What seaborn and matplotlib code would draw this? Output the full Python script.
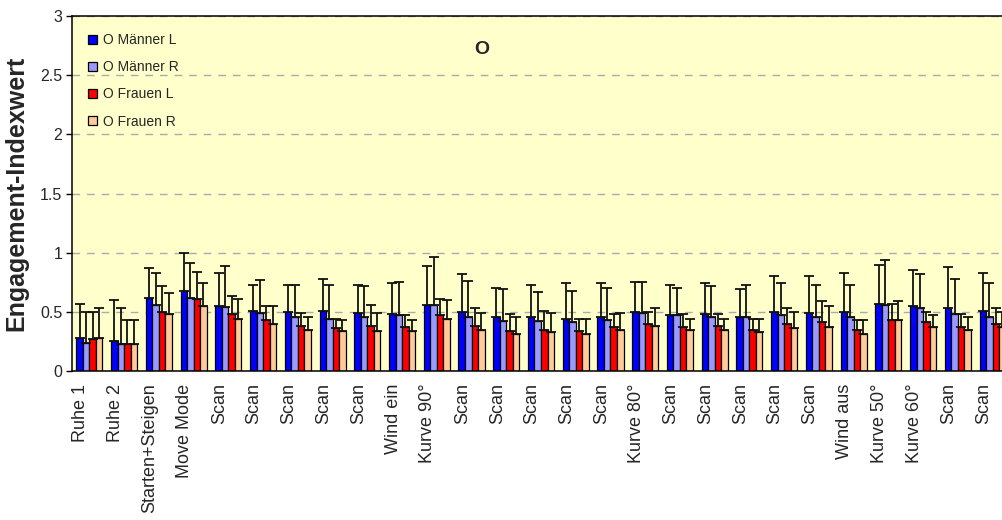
import numpy as np
import pandas as pd
import matplotlib
matplotlib.use("Agg")
import matplotlib.pyplot as plt
import matplotlib.transforms as mtransforms
import seaborn as sns

# categories along the x axis (27 phases)
categories = ["Ruhe 1", "Ruhe 2", "Starten+Steigen", "Move Mode",
              "Scan", "Scan", "Scan", "Scan", "Scan",
              "Wind ein", "Kurve 90°",
              "Scan", "Scan", "Scan", "Scan", "Scan",
              "Kurve 80°",
              "Scan", "Scan", "Scan", "Scan", "Scan",
              "Wind aus", "Kurve 50°", "Kurve 60°", "Scan", "Scan"]

series_names = ["O Männer L", "O Männer R", "O Frauen L", "O Frauen R"]

# bar heights
maenner_l = [0.28, 0.25, 0.62, 0.68, 0.55, 0.51, 0.50, 0.51, 0.49, 0.48, 0.56, 0.50, 0.46, 0.46,
             0.44, 0.46, 0.50, 0.47, 0.48, 0.46, 0.50, 0.49, 0.50, 0.57, 0.55, 0.53, 0.51]
maenner_r = [0.24, 0.23, 0.56, 0.62, 0.54, 0.49, 0.46, 0.44, 0.46, 0.47, 0.56, 0.46, 0.42, 0.42,
             0.41, 0.43, 0.49, 0.47, 0.46, 0.46, 0.47, 0.46, 0.46, 0.56, 0.53, 0.48, 0.46]
frauen_l = [0.27, 0.23, 0.50, 0.61, 0.48, 0.43, 0.38, 0.36, 0.38, 0.37, 0.47, 0.38, 0.34, 0.35,
            0.34, 0.37, 0.40, 0.37, 0.38, 0.35, 0.40, 0.41, 0.35, 0.43, 0.41, 0.37, 0.40]
frauen_r = [0.28, 0.23, 0.48, 0.55, 0.44, 0.40, 0.35, 0.34, 0.34, 0.34, 0.44, 0.35, 0.31, 0.33,
            0.31, 0.35, 0.38, 0.35, 0.35, 0.33, 0.36, 0.37, 0.31, 0.43, 0.37, 0.35, 0.37]

# upper ends of the error bars
maenner_l_top = [0.57, 0.60, 0.87, 1.00, 0.83, 0.73, 0.73, 0.78, 0.73, 0.74, 0.89, 0.82, 0.70, 0.73,
                 0.74, 0.74, 0.75, 0.73, 0.74, 0.69, 0.80, 0.80, 0.83, 0.90, 0.85, 0.88, 0.83]
maenner_r_top = [0.50, 0.53, 0.83, 0.91, 0.89, 0.77, 0.73, 0.73, 0.72, 0.75, 0.96, 0.76, 0.69, 0.67,
                 0.68, 0.70, 0.75, 0.70, 0.72, 0.73, 0.74, 0.73, 0.73, 0.94, 0.82, 0.78, 0.74]
frauen_l_top = [0.50, 0.43, 0.72, 0.84, 0.63, 0.55, 0.49, 0.44, 0.56, 0.47, 0.61, 0.53, 0.48, 0.51,
                0.44, 0.48, 0.50, 0.48, 0.48, 0.44, 0.53, 0.59, 0.43, 0.57, 0.50, 0.48, 0.53]
frauen_r_top = [0.53, 0.43, 0.66, 0.74, 0.61, 0.55, 0.46, 0.43, 0.49, 0.43, 0.60, 0.49, 0.46, 0.49,
                0.44, 0.49, 0.53, 0.44, 0.44, 0.44, 0.50, 0.55, 0.43, 0.59, 0.47, 0.46, 0.50]

colors = ["#0000FF", "#9999FF", "#FF0000", "#FFCC99"]

values = [maenner_l, maenner_r, frauen_l, frauen_r]
tops = [maenner_l_top, maenner_r_top, frauen_l_top, frauen_r_top]

# long table, x as position index so the repeated "Scan" labels stay separate
rows = []
for name, vals in zip(series_names, values):
    for i, v in enumerate(vals):
        rows.append({"pos": i, "series": name, "value": v})
df = pd.DataFrame(rows)

sns.set_style("white")
plt.rcParams['font.family'] = ['Liberation Sans', 'DejaVu Sans']

fig = plt.figure(figsize=(10.02, 5.2), dpi=100)
ax = fig.add_axes([72 / 1002, 1 - 371 / 520, (1010 - 72) / 1002, 355 / 520])
ax.set_facecolor("#FFFFCC")

sns.barplot(data=df, x="pos", y="value", hue="series", hue_order=series_names,
            palette=dict(zip(series_names, colors)), errorbar=None, width=0.75,
            saturation=1, edgecolor="black", linewidth=0.9, ax=ax, zorder=2)

# error bars (upper only)
for cont, vals, top in zip(ax.containers, values, tops):
    xs = [b.get_x() + b.get_width() / 2 for b in cont]
    up = np.array(top) - np.array(vals)
    ax.errorbar(xs, vals, yerr=[np.zeros(len(vals)), up], fmt="none",
                ecolor="#111111", elinewidth=1.3, capsize=3.5, capthick=1.3, zorder=3)

ax.set_xlim(-0.5, len(categories) - 0.5)
ax.set_ylim(0, 3)
ax.set_yticks(np.arange(0, 3.01, 0.5))
ax.set_yticklabels(["0", "0.5", "1", "1.5", "2", "2.5", "3"], fontsize=11.5)
ax.yaxis.grid(True, color="#ABABAB", linestyle=(0, (5.5, 5)), linewidth=1.0, zorder=0)
ax.set_axisbelow(True)
ax.tick_params(axis="y", left=True, length=4, width=1, pad=3, color="black")

ax.set_xticks(range(len(categories)))
ax.set_xticklabels(categories, rotation=90, fontsize=13, va="top")
ax.tick_params(axis="x", bottom=False, length=0, pad=9)
offset = mtransforms.ScaledTranslation(-9 / 100, 0, fig.dpi_scale_trans)
for lbl in ax.get_xticklabels():
    lbl.set_transform(lbl.get_transform() + offset)

ax.set_xlabel("")
ax.set_ylabel("Engagement-Indexwert", fontsize=18, fontweight="bold")
ax.yaxis.set_label_coords(-0.047, 0.5)

for side in ["left", "bottom", "top"]:
    ax.spines[side].set_color("black")
    ax.spines[side].set_linewidth(1.1)
ax.spines["right"].set_visible(False)

leg = ax.legend(loc="upper left", bbox_to_anchor=(0.017, 0.952), frameon=False,
                fontsize=10, handlelength=0.65, handleheight=0.65, handletextpad=0.45,
                labelspacing=0.95, borderpad=0, borderaxespad=0)
for h in leg.legend_handles:
    h.set_edgecolor("black")
    h.set_linewidth(0.9)

fig.text(482 / 1002, 1 - 49 / 520, "O", ha="center", va="center",
         fontsize=14, fontweight="bold")

fig.savefig("out.png", dpi=100, facecolor="white")
